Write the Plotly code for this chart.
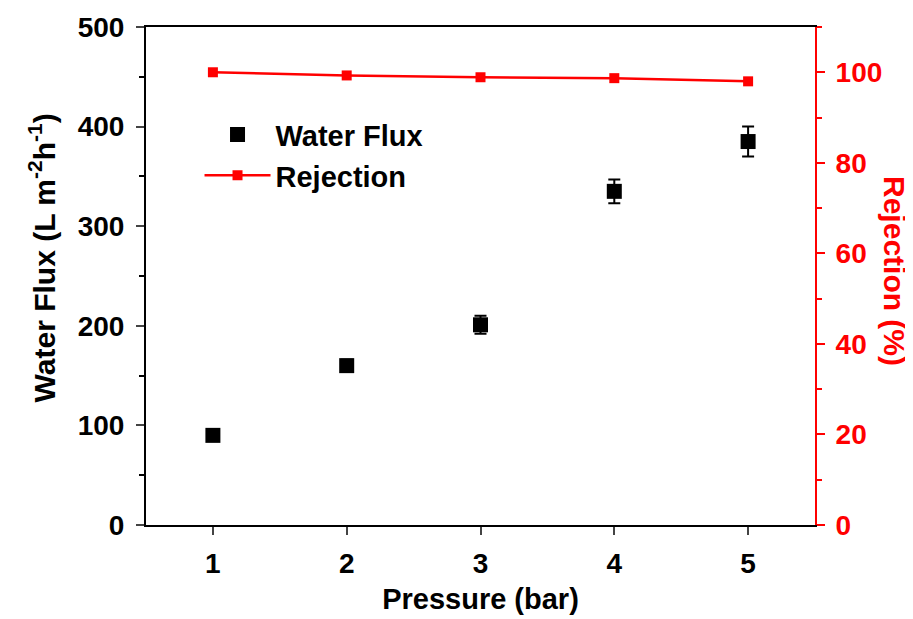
import plotly.graph_objects as go

pressure = [1, 2, 3, 4, 5]
water_flux = [90, 160, 201, 335, 385]
flux_err = [4, 6, 9, 12, 15]
rejection = [100, 99.3, 98.9, 98.7, 98.0]

FONT = "Liberation Sans, Arial, sans-serif"
RED = "#ff0000"
TICK = 28
TITLE = 29

fig = go.Figure()
fig.add_trace(go.Scatter(
    x=pressure, y=water_flux, mode="markers", name="Water Flux",
    marker=dict(symbol="square", size=15, color="black"),
    error_y=dict(type="data", array=flux_err, color="black", thickness=2, width=6),
    yaxis="y"))
fig.add_trace(go.Scatter(
    x=pressure, y=rejection, mode="lines+markers", name="Rejection",
    line=dict(color=RED, width=2.5),
    marker=dict(symbol="square", size=10, color=RED),
    yaxis="y2"))

fig.update_layout(
    width=913, height=619,
    margin=dict(l=138, r=106, t=19, b=102, autoexpand=False),
    paper_bgcolor="white", plot_bgcolor="white",
    font=dict(family=FONT, size=TICK, color="black", weight="bold"),
    showlegend=True,
    legend=dict(x=0.08, y=0.835, xanchor="left", yanchor="top",
                bgcolor="rgba(0,0,0,0)", font=dict(size=TITLE, weight="bold"),
                itemwidth=66, tracegroupgap=0),
    xaxis=dict(range=[0.5, 5.5], tickvals=pressure, ticks="outside", ticklen=8,
               tickwidth=2, linewidth=2, linecolor="black", mirror=True,
               showgrid=False, zeroline=False, automargin=False, ticklabelstandoff=4,
               tickfont=dict(size=TICK, weight="bold"),
               title=dict(text="Pressure (bar)", font=dict(size=TITLE, weight="bold"), standoff=11)),
    yaxis=dict(range=[0, 500], tickvals=[0, 100, 200, 300, 400, 500], ticks="outside",
               ticklen=8, tickwidth=2, linewidth=2, linecolor="black",
               showgrid=False, zeroline=False, automargin=False, ticklabelstandoff=6,
               minor=dict(dtick=50, ticks="outside", ticklen=5, tickwidth=2, tickcolor="black"),
               tickfont=dict(size=TICK, weight="bold")),
    yaxis2=dict(range=[0, 110], tickvals=[0, 20, 40, 60, 80, 100], overlaying="y", side="right",
                ticks="outside", ticklen=8, tickwidth=2, linewidth=2, linecolor=RED,
                tickcolor=RED, showgrid=False, zeroline=False, automargin=False,
                ticklabelstandoff=5,
                minor=dict(dtick=10, ticks="outside", ticklen=5, tickwidth=2, tickcolor=RED),
                tickfont=dict(size=TICK, color=RED, weight="bold")),
    annotations=[
        dict(text="Water Flux (L m<sup>-2</sup>h<sup>-1</sup>)", xref="paper", yref="paper",
             x=-0.155, y=0.536, xanchor="center", yanchor="middle", textangle=-90,
             showarrow=False, font=dict(size=30, color="black", weight="bold")),
        dict(text="Rejection (%)", xref="paper", yref="paper",
             x=1.1196, y=0.51, xanchor="center", yanchor="middle", textangle=90,
             showarrow=False, font=dict(size=30, color=RED, weight="bold")),
    ],
)

fig.write_html("out.html")
